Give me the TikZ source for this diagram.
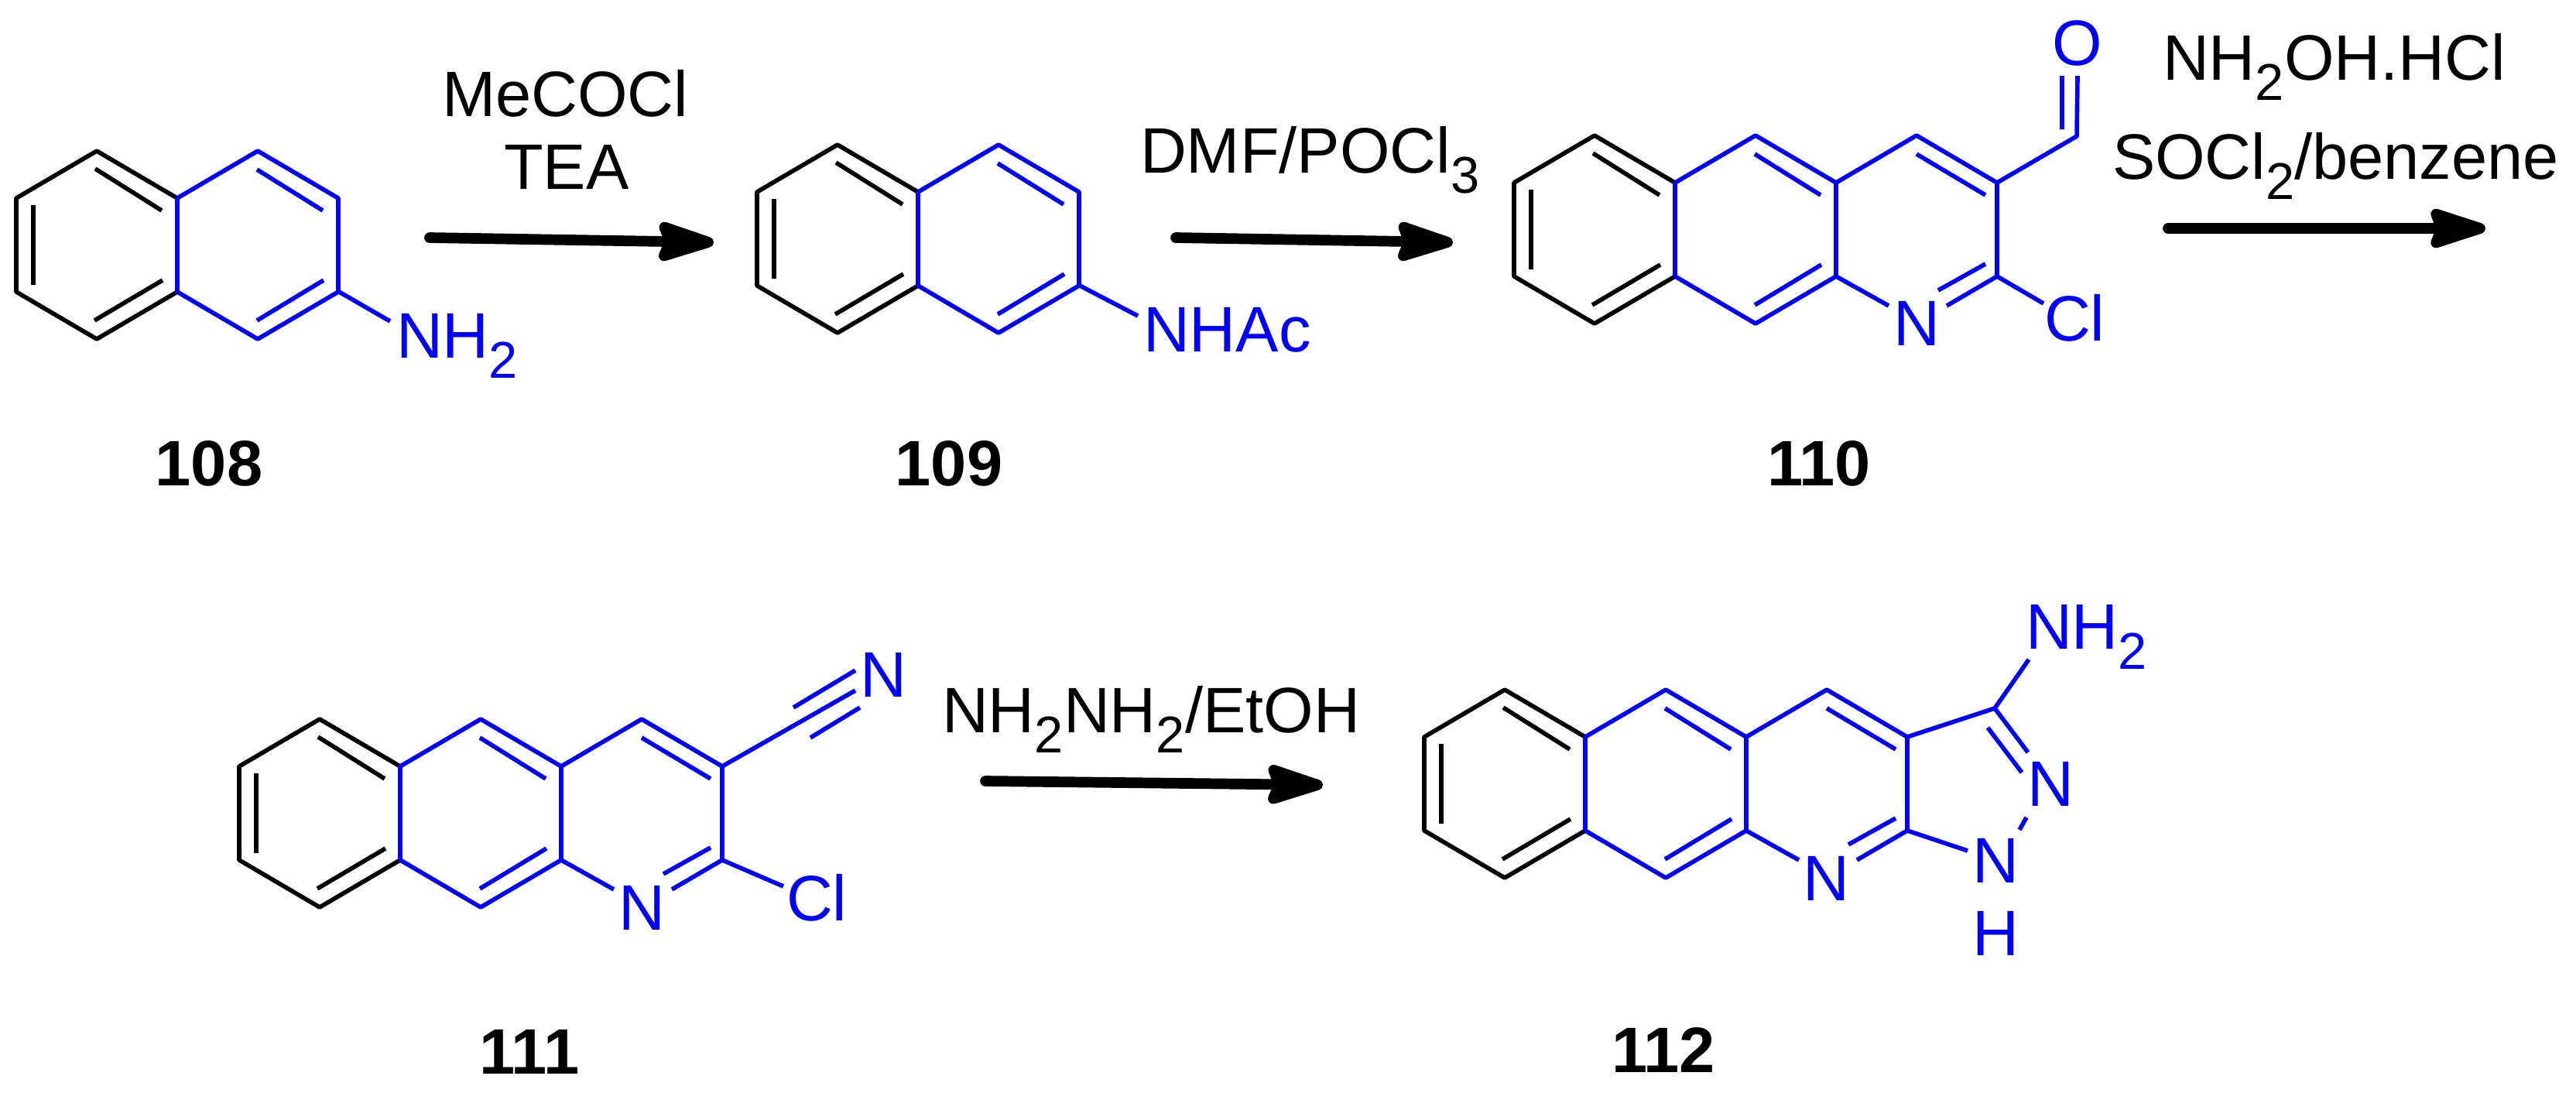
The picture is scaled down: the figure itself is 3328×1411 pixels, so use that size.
\documentclass[tikz,border=0pt]{standalone}
\usepackage{fontspec}
\setmainfont{Liberation Sans}
\usetikzlibrary{arrows.meta}
\newcommand\subs[1]{\raisebox{-.32em}{\fontsize{19}{19}\selectfont #1}}
\newcommand\naphth{
    \draw [bondline] (208,0) -- (104,-61) -- (0,0) -- (0,121) -- (104,182) -- (208,121);
    \draw [bondline] (102,-38) -- (188,16) (22,9) -- (22,112) (101,158) -- (189,106);
    \draw [bondblue] (208,121) -- (208,0) -- (312,-61) -- (416,0) -- (416,121) -- (312,182) -- cycle;
    \draw [bondblue] (311,-37) -- (396,16) (311,158) -- (397,106);
}
\newcommand\pyrid{
    \draw [bondblue] (416,0) -- (520,-61) -- (624,0) -- (624,121) -- (559,159);
    \draw [bondblue] (520,-37) -- (609,16) (416,121) -- (484,159) (609,105) -- (548,139);
}
\tikzset{
    bondline/.style={line width=1.6pt, line join=round},
    bondblue/.style={bondline, blue},
    rxn/.style={line width=3.9pt, line cap=round, -{Stealth[length=.9cm, width=.56cm, inset=.1cm, round]}},
    label/.style={font=\fontsize{23.6}{26}\selectfont, inner sep=0pt, outer sep=0pt, anchor=base west},
    atom/.style={label, blue},
    atomc/.style={atom, anchor=base},
    num/.style={label, anchor=base, font=\fontsize{23.6}{26}\selectfont\bfseries},
}
\begin{document}
\begin{tikzpicture}[x=.01cm, y=-.01cm]
    \useasboundingbox (0,0) rectangle (3328,1411);

    % Соединение 108
    \begin{scope}[shift={(21,256)}]
        \naphth
        \coordinate (c108) at (417,121);
        \coordinate (b108) at (483,159);
    \end{scope}
    \draw [bondblue] (c108) -- (b108);
    \node (nh108) [atom] at (512,462) {NH\subs{2}};
    \node (num108) [num] at (270,627) {108};

    % Соединение 109
    \begin{scope}[shift={(978,248)}]
        \naphth
        \coordinate (c109) at (417,121);
        \coordinate (b109) at (492,160);
    \end{scope}
    \draw [bondblue] (c109) -- (b109);
    \node (nh109) [atom] at (1477,454) {NHAc};
    \node (num109) [num] at (1226,627) {109};

    % Соединение 110
    \begin{scope}[shift={(1956,236)}]
        \naphth
        \pyrid
        \coordinate (c110) at (624,0);
        \coordinate (f110) at (727,-60);
        \coordinate (o110) at (728,-138);
        \coordinate (i110) at (708,-138);
        \coordinate (j110) at (708,-69);
        \coordinate (k110) at (624,121);
        \coordinate (l110) at (684,156);
    \end{scope}
    \draw [bondblue] (c110) -- (f110) -- (o110) (i110) -- (j110) (k110) -- (l110);
    \node (o) [atomc] at (2684,84) {O};
    \node (n110) [atomc] at (2476,446) {N};
    \node (cl110) [atom] at (2641,440) {Cl};
    \node (num110) [num] at (2350,627) {110};

    % Соединение 111
    \begin{scope}[shift={(309,990)}]
        \naphth
        \pyrid
        \coordinate (c111) at (624,0);
        \coordinate (e111) at (796,-98);
        \coordinate (u111) at (716,-76);
        \coordinate (v111) at (796,-124);
        \coordinate (w111) at (738,-37);
        \coordinate (z111) at (802,-76);
        \coordinate (k111) at (624,121);
        \coordinate (l111) at (703,155);
    \end{scope}
    \draw [bondblue] (c111) -- (e111) (u111) -- (v111) (w111) -- (z111) (k111) -- (l111);
    \node (nt111) [atomc] at (1141,900) {N};
    \node (n111) [atomc] at (829,1201) {N};
    \node (cl111) [atom] at (1016,1189) {Cl};
    \node (num111) [num] at (684,1387) {111};

    % Соединение 112
    \begin{scope}[shift={(1840,952)}]
        \naphth
        \pyrid
        \coordinate (c112) at (624,0);
        \coordinate (p112) at (737,-37);
        \coordinate (q112) at (781,-100);
        \coordinate (r112) at (780,20);
        \coordinate (s112) at (728,-12);
        \coordinate (t112) at (772,46);
        \coordinate (g112) at (778,104);
        \coordinate (h112) at (769,120);
        \coordinate (k112) at (624,121);
        \coordinate (m112) at (702,147);
    \end{scope}
    \draw [bondblue] (c112) -- (p112) -- (q112) (p112) -- (r112) (s112) -- (t112) (g112) -- (h112) (k112) -- (m112);
    \node (nh112) [atom] at (2617,838) {NH\subs{2}};
    \node (n2) [atomc] at (2649,1041) {N};
    \node (n1) [atomc] at (2578,1140) {N};
    \node (h1) [atomc] at (2578,1234) {H};
    \node (n112) [atomc] at (2359,1163) {N};
    \node (num112) [num] at (2149,1385) {112};

    % Реагенты
    \node (acyl) [label] at (571,150) {MeCOCl};
    \node (tea) [label] at (651,244) {TEA};
    \node (dmf) [label] at (1473,223) {DMF/POCl\subs{3}};
    \node (hydrox) [label] at (2794,103) {NH\subs{2}OH.HCl};
    \node (socl) [label] at (2729,231) {SOCl\subs{2}/benzene};
    \node (hydraz) [label] at (1217,946) {NH\subs{2}NH\subs{2}/EtOH};

    % Стрелки
    \coordinate (s1) at (555,307);
    \coordinate (e1) at (922,313);
    \coordinate (s2) at (1519,307);
    \coordinate (e2) at (1877,313);
    \coordinate (s3) at (2801,295);
    \coordinate (e3) at (3211,295);
    \coordinate (s4) at (1273,1009);
    \coordinate (e4) at (1709,1014);
    \draw [rxn] (s1) -- (e1);
    \draw [rxn] (s2) -- (e2);
    \draw [rxn] (s3) -- (e3);
    \draw [rxn] (s4) -- (e4);
\end{tikzpicture}
\end{document}
